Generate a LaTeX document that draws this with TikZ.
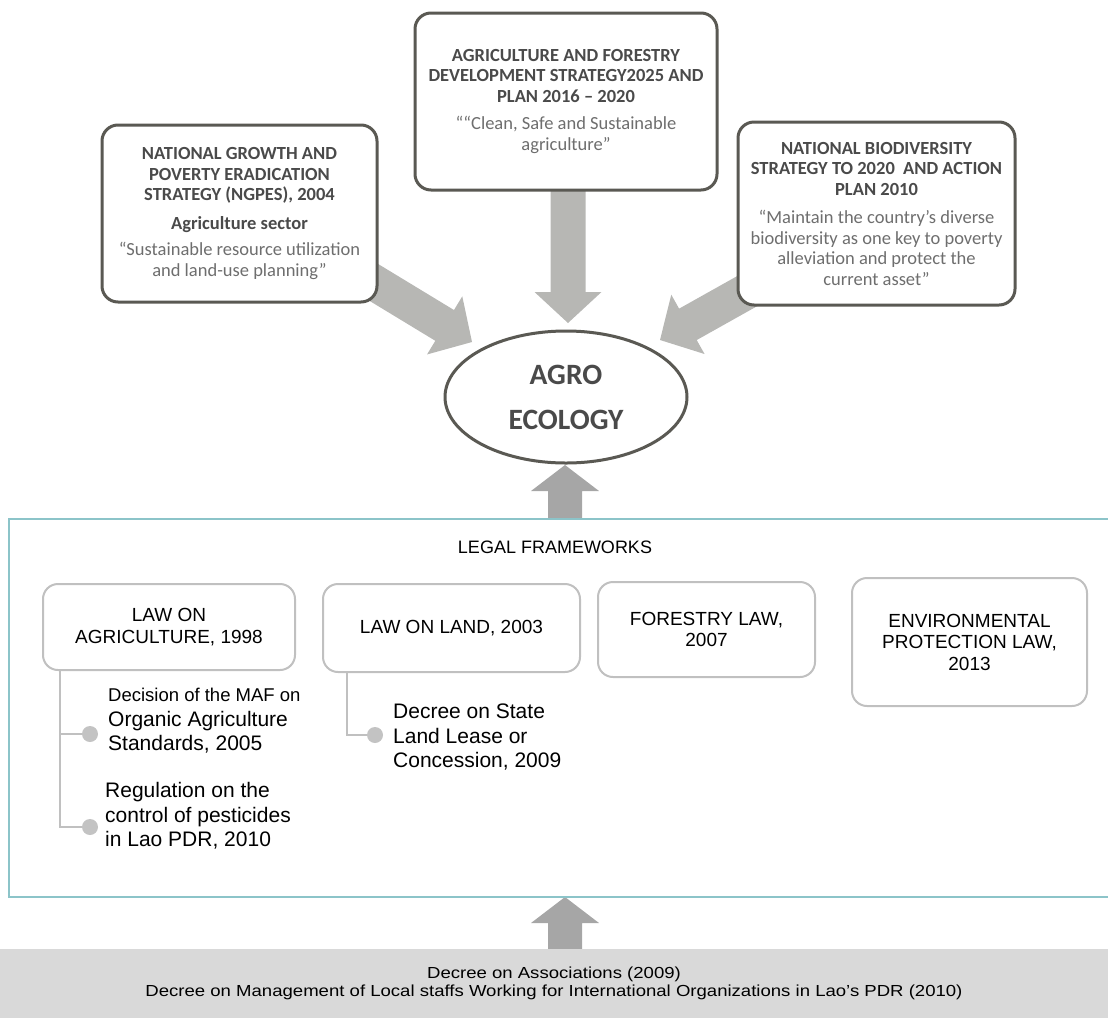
\documentclass[tikz,border=0pt]{standalone}
\usepackage{fontspec}
\usepackage{graphicx}
\setmainfont{Liberation Sans}
\newfontfamily\carl{Carlito}
\usetikzlibrary{calc,shapes.geometric}
\definecolor{boxline}{HTML}{5A5953}
\definecolor{titletext}{HTML}{4A4A4A}
\definecolor{quotetext}{HTML}{6E6E6E}
\definecolor{toparrow}{HTML}{B7B7B4}
\definecolor{botarrow}{HTML}{A6A6A6}
\definecolor{teal}{HTML}{8CC4C9}
\definecolor{lawline}{HTML}{C0C0C0}
\definecolor{bulletgray}{HTML}{C3C3C3}
\definecolor{decreebg}{HTML}{D9D9D9}
% block arrow: #1 tail, #2 tip, #3 colour, #4 head length, #5 shaft half width, #6 head half width
\newcommand{\blockarr}[6]{%
  \coordinate (ba-h) at ($(#2)!#4!(#1)$);
  \fill[#3] ($(#1)!#5!90:(#2)$) -- ($(ba-h)!#5!90:(#2)$) -- ($(ba-h)!#6!90:(#2)$) -- (#2)
    -- ($(ba-h)!#6!-90:(#2)$) -- ($(ba-h)!#5!-90:(#2)$) -- ($(#1)!#5!-90:(#2)$) -- cycle;}
\newcommand{\wideline}[1]{\scalebox{1.16}[1]{#1}}
\begin{document}
\begin{tikzpicture}[x=1pt,y=-1pt,
  topbox/.style={draw=boxline, line width=3pt, rounded corners=16pt, fill=white,
    align=center, inner sep=0pt, text=quotetext,
    font=\carl\fontsize{18.5}{20.5}\selectfont},
  lawbox/.style={draw=lawline, line width=2pt, rounded corners=15pt, fill=white,
    align=center, inner sep=0pt, font=\fontsize{19}{21.5}\selectfont},
  subtext/.style={anchor=west, align=left, inner sep=0pt, font=\fontsize{21}{24.5}\selectfont},
  treeline/.style={draw=lawline, line width=2pt},
  bulletdot/.style={circle, fill=bulletgray, minimum size=16pt, inner sep=0pt}]
\useasboundingbox (0,0) rectangle (1108,1018);

% coordinates for block arrows
\coordinate (la-s) at (327,254);
\coordinate (la-t) at (472,342);
\coordinate (ra-s) at (808,257);
\coordinate (ra-t) at (660,340);
\coordinate (ma-s) at (568,150);
\coordinate (ma-t) at (568,323);
\coordinate (ua-s) at (565,519);
\coordinate (ua-t) at (565,465);
\coordinate (da-s) at (565,949);
\coordinate (da-t) at (565,897);

\blockarr{la-s}{la-t}{toparrow}{32pt}{18pt}{34pt}
\blockarr{ra-s}{ra-t}{toparrow}{32pt}{18pt}{34pt}
\blockarr{ma-s}{ma-t}{toparrow}{31pt}{17.5pt}{33.5pt}
\blockarr{ua-s}{ua-t}{botarrow}{26pt}{17pt}{34pt}
\blockarr{da-s}{da-t}{botarrow}{26pt}{17pt}{34pt}

% top boxes
\node[topbox, minimum width=275pt, minimum height=177pt] (ngpes) at (239.5,213.5)
  {\textcolor{titletext}{\bfseries NATIONAL GROWTH AND}\\
   \textcolor{titletext}{\bfseries POVERTY ERADICATION}\\
   \textcolor{titletext}{\bfseries STRATEGY (NGPES), 2004}\\[8pt]
   \textcolor{titletext}{\bfseries Agriculture sector}\\[6pt]
   “Sustainable resource utilization\\
   and land-use planning”};
\node[topbox, minimum width=302pt, minimum height=177pt] (afds) at (566,101.5)
  {\textcolor{titletext}{\bfseries AGRICULTURE AND FORESTRY}\\
   \textcolor{titletext}{\bfseries DEVELOPMENT STRATEGY2025 AND}\\
   \textcolor{titletext}{\bfseries PLAN 2016 – 2020}\\[7pt]
   ““Clean, Safe and Sustainable\\
   agriculture”};
\node[topbox, minimum width=277pt, minimum height=183pt] (nbsap) at (876.5,213.5)
  {\textcolor{titletext}{\bfseries NATIONAL BIODIVERSITY}\\
   \textcolor{titletext}{\bfseries STRATEGY TO 2020 \ AND ACTION}\\
   \textcolor{titletext}{\bfseries PLAN 2010}\\[8pt]
   “Maintain the country’s diverse\\
   biodiversity as one key to poverty\\
   alleviation and protect the\\
   current asset”};

% central ellipse
\node[ellipse, draw=boxline, line width=3pt, fill=white, minimum width=242pt, minimum height=132pt,
  align=center, inner sep=0pt, text=titletext,
  font=\carl\bfseries\fontsize{29.5}{45}\selectfont] (agro) at (566,397) {AGRO\\ECOLOGY};

% legal frameworks frame
\draw[teal, line width=2.5pt] (1110,519) -- (9,519) -- (9,897) -- (1110,897);
\node[font=\fontsize{18}{21}\selectfont, inner sep=0pt] (legal) at (555,547) {LEGAL FRAMEWORKS};

\node[lawbox, minimum width=252pt, minimum height=86pt] (law1) at (169,627) {LAW ON\\AGRICULTURE, 1998};
\node[lawbox, minimum width=257pt, minimum height=88pt] (law2) at (451.5,628) {LAW ON LAND, 2003};
\node[lawbox, minimum width=217pt, minimum height=95pt] (law3) at (706.5,629.5) {FORESTRY LAW,\\2007};
\node[lawbox, minimum width=235pt, minimum height=128pt] (law4) at (969.5,642) {ENVIRONMENTAL\\PROTECTION LAW,\\2013};

% sub items
\node[bulletdot] (b1) at (90,734) {};
\node[bulletdot] (b2) at (90,827) {};
\node[bulletdot] (b3) at (375,735) {};
\coordinate (t1) at ($(law1.south west)+(18,0)$);
\coordinate (t2) at ($(law2.south west)+(25,0)$);
\draw[treeline] (t1) |- (b1);
\draw[treeline] (t1) |- (b2);
\draw[treeline] (t2) |- (b3);

\node[subtext] (s1) at (108,721)
  {{\fontsize{18.5}{22}\selectfont Decision of the MAF on}\\Organic Agriculture\\Standards, 2005};
\node[subtext] (s2) at (105,816) {Regulation on the\\control of pesticides\\in Lao PDR, 2010};
\node[subtext] (s3) at (393,737) {Decree on State\\Land Lease or\\Concession, 2009};

% bottom decree box
\node[fill=decreebg, minimum width=1108pt, minimum height=69pt, inner sep=0pt, align=center,
  font=\fontsize{16}{17.5}\selectfont] (decree) at (554,983.5)
  {\wideline{Decree on Associations (2009)}\\\wideline{Decree on Management of Local staffs Working for International Organizations in Lao’s PDR (2010)}};
\end{tikzpicture}
\end{document}
